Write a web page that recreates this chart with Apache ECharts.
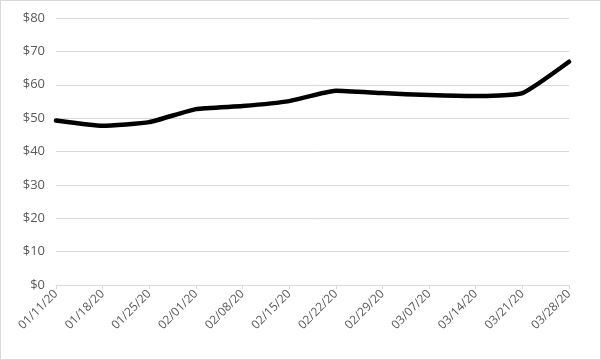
<!DOCTYPE html>
<html><head><meta charset="utf-8">
<script src="https://cdn.jsdelivr.net/npm/echarts@6/dist/echarts.min.js"></script>
<style>html,body{margin:0;padding:0;background:#fff}#c{width:601px;height:360px;box-sizing:border-box;border:1px solid #d9d9d9}</style>
</head><body><div id="c"></div>
<script>
const categories = ['01/11/20','01/18/20','01/25/20','02/01/20','02/08/20','02/15/20','02/22/20','02/29/20','03/07/20','03/14/20','03/21/20','03/28/20'];
const prices = [49.3, 47.7, 48.8, 52.7, 53.6, 55.1, 58.2, 57.5, 56.9, 56.6, 57.5, 66.9];
const yTicks = [0, 10, 20, 30, 40, 50, 60, 70, 80];

const chart = echarts.init(document.getElementById('c'));
chart.setOption({
  animation: false,
  grid: {left: 55, right: 31, top: 17, bottom: 74, containLabel: false},
  xAxis: {
    type: 'category', data: categories, boundaryGap: false,
    axisLine: {lineStyle: {color: '#d9d9d9'}},
    axisTick: {show: true, length: 4, lineStyle: {color: '#d9d9d9'}},
    axisLabel: {rotate: 45, color: '#595959', fontSize: 12, fontFamily: 'Open Sans, sans-serif', margin: 7}
  },
  yAxis: {
    type: 'value', min: yTicks[0], max: yTicks[yTicks.length-1], interval: 10,
    axisLine: {show: false}, axisTick: {show: false},
    splitLine: {lineStyle: {color: '#d9d9d9'}},
    axisLabel: {color: '#595959', fontSize: 13, fontFamily: 'Open Sans, sans-serif', margin: 11, formatter: v => '$' + v}
  },
  series: [{
    type: 'line', data: prices, smooth: 0.15, showSymbol: false,
    lineStyle: {color: '#000', width: 4.5, cap: 'round', join: 'round'}
  }]
});
</script></body></html>
